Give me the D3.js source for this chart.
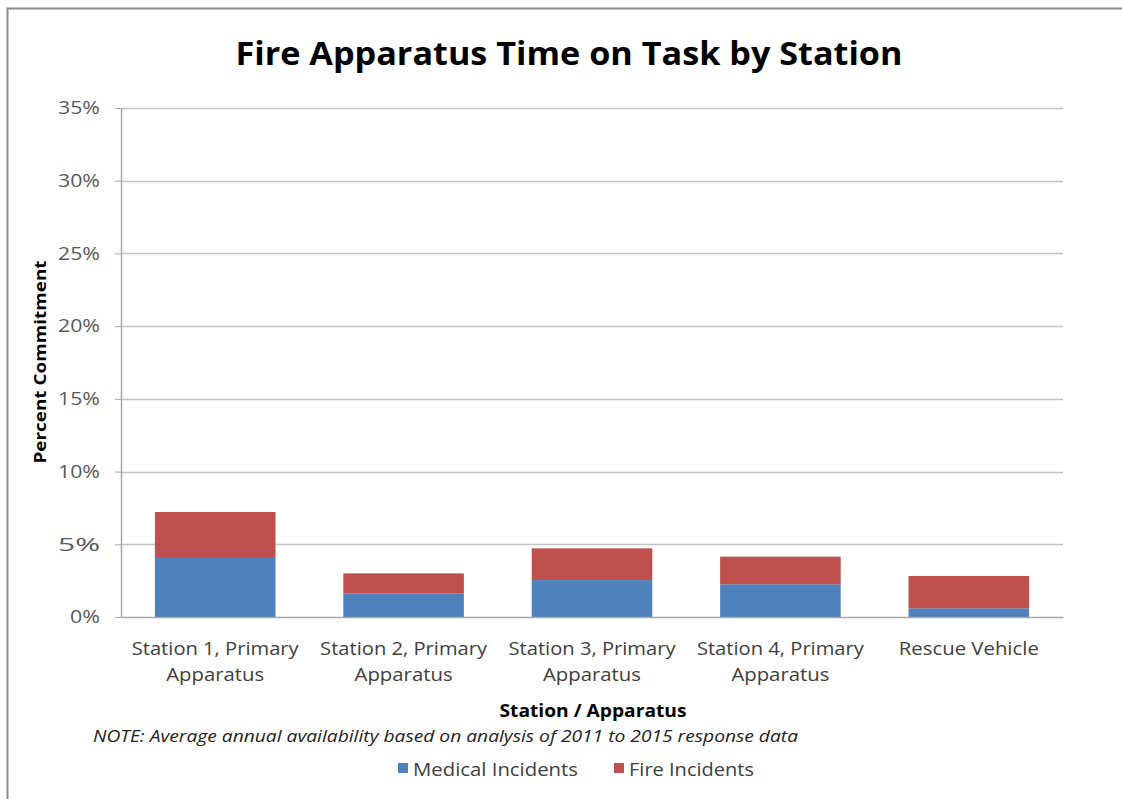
<!DOCTYPE html>
<html>
<head>
<meta charset="utf-8">
<script src="https://cdn.jsdelivr.net/npm/d3@7"></script>
<style>
  html, body { margin: 0; padding: 0; background: #fff; }
  svg { display: block; font-family: "Open Sans", "Noto Sans", sans-serif; }
</style>
</head>
<body>
<svg id="chart" width="1122" height="799"></svg>
<script>
// Station / apparatus categories (two-line labels)
const categories = [
  ["Station 1, Primary", "Apparatus"],
  ["Station 2, Primary", "Apparatus"],
  ["Station 3, Primary", "Apparatus"],
  ["Station 4, Primary", "Apparatus"],
  ["Rescue Vehicle"]
];
// Percent commitment by incident type
const medical = [4.06, 1.63, 2.54, 2.25, 0.60];
const fire    = [3.16, 1.37, 2.18, 1.90, 2.22];
const seriesNames = ["Medical Incidents", "Fire Incidents"];
const seriesColors = ["#4F81BD", "#C0504D"];
const yTicks = [0, 5, 10, 15, 20, 25, 30, 35];

const svg = d3.select("#chart");
const W = 1122, H = 799;
const plot = { left: 121, right: 1063, top: 108, bottom: 617 };

// Stretch a text element horizontally so it fills the given width
function fit(sel, width) {
  return sel.attr("textLength", width).attr("lengthAdjust", "spacingAndGlyphs");
}

// Chart frame
svg.append("rect")
  .attr("x", 7.5).attr("y", 8.5)
  .attr("width", W).attr("height", H)
  .attr("fill", "#fff").attr("stroke", "#8c8c8c").attr("stroke-width", 2);

const x = d3.scaleBand()
  .domain(d3.range(categories.length))
  .range([plot.left, plot.right])
  .paddingInner(0.36).paddingOuter(0.18);

const y = d3.scaleLinear().domain([0, 35]).range([plot.bottom, plot.top]);

// Gridlines
svg.append("g").selectAll("line")
  .data(yTicks.filter(d => d > 0))
  .join("line")
  .attr("x1", plot.left).attr("x2", plot.right)
  .attr("y1", d => Math.round(y(d)) + 0.5).attr("y2", d => Math.round(y(d)) + 0.5)
  .attr("stroke", "#c4c4c4").attr("stroke-width", 1.5);

// Y axis
const yAxis = svg.append("g")
  .attr("transform", `translate(${plot.left},0)`)
  .call(d3.axisLeft(y).tickValues(yTicks).tickFormat(d => d + "%").tickSize(6).tickSizeOuter(0));
yAxis.select(".domain").attr("stroke", "#a6a6a6").attr("stroke-width", 1.5);
yAxis.selectAll(".tick line").attr("stroke", "#a6a6a6");
yAxis.selectAll(".tick text")
  .attr("x", -21)
  .attr("font-size", 18).attr("fill", "#595959")
  .attr("font-family", "\"Open Sans\", sans-serif")
  .each(function (d) { fit(d3.select(this), d === 0 ? 30 : 42); });

// Stacked bars
const stackData = categories.map((c, i) => ({ i, medical: medical[i], fire: fire[i] }));
const stacked = d3.stack().keys(["medical", "fire"])(stackData);
svg.append("g").selectAll("g")
  .data(stacked)
  .join("g")
  .attr("fill", (d, k) => seriesColors[k])
  .selectAll("rect")
  .data(d => d)
  .join("rect")
  .attr("x", d => x(d.data.i))
  .attr("width", x.bandwidth())
  .attr("y", d => y(d[1]))
  .attr("height", d => y(d[0]) - y(d[1]));

// X axis
const xAxis = svg.append("g")
  .attr("transform", `translate(0,${plot.bottom})`)
  .call(d3.axisBottom(x).tickSize(0).tickSizeOuter(0).tickFormat(""));
xAxis.select(".domain").attr("stroke", "#a6a6a6").attr("stroke-width", 1.5);

// Category labels
const xl = svg.append("g");
const lineWidths = { "Station 1, Primary": 167, "Station 2, Primary": 167, "Station 3, Primary": 167,
                     "Station 4, Primary": 167, "Apparatus": 98, "Rescue Vehicle": 140 };
categories.forEach((lines, i) => {
  const cx = x(i) + x.bandwidth() / 2;
  lines.forEach((ln, j) => {
    fit(xl.append("text")
      .attr("x", cx)
      .attr("y", 655 + j * 26)
      .attr("text-anchor", "middle")
      .attr("font-size", 18).attr("fill", "#404040")
      .text(ln), lineWidths[ln]);
  });
});

// Title
fit(svg.append("text")
  .attr("x", 569).attr("y", 65)
  .attr("text-anchor", "middle")
  .attr("font-size", 33).attr("font-weight", "bold")
  .attr("fill", "#000")
  .text("Fire Apparatus Time on Task by Station"), 667);

// Axis titles
fit(svg.append("text")
  .attr("transform", "translate(46,362) rotate(-90)")
  .attr("text-anchor", "middle")
  .attr("font-size", 16).attr("font-weight", "bold").attr("fill", "#000")
  .text("Percent Commitment"), 203);

fit(svg.append("text")
  .attr("x", 593).attr("y", 717)
  .attr("text-anchor", "middle")
  .attr("font-size", 17).attr("font-weight", "bold").attr("fill", "#000")
  .text("Station / Apparatus"), 187);

// Note
fit(svg.append("text")
  .attr("x", 93).attr("y", 742)
  .attr("font-size", 16).attr("font-style", "italic").attr("fill", "#222")
  .text("NOTE: Average annual availability based on analysis of 2011 to 2015 response data"), 705);

// Legend
const legendItems = [
  { name: seriesNames[0], color: seriesColors[0], x: 398, w: 165 },
  { name: seriesNames[1], color: seriesColors[1], x: 614, w: 125 }
];
const lg = svg.append("g");
legendItems.forEach(it => {
  lg.append("rect").attr("x", it.x).attr("y", 763).attr("width", 10).attr("height", 10).attr("fill", it.color);
  fit(lg.append("text").attr("x", it.x + 15).attr("y", 776)
    .attr("font-size", 18).attr("fill", "#404040").text(it.name), it.w);
});
</script>
</body>
</html>
